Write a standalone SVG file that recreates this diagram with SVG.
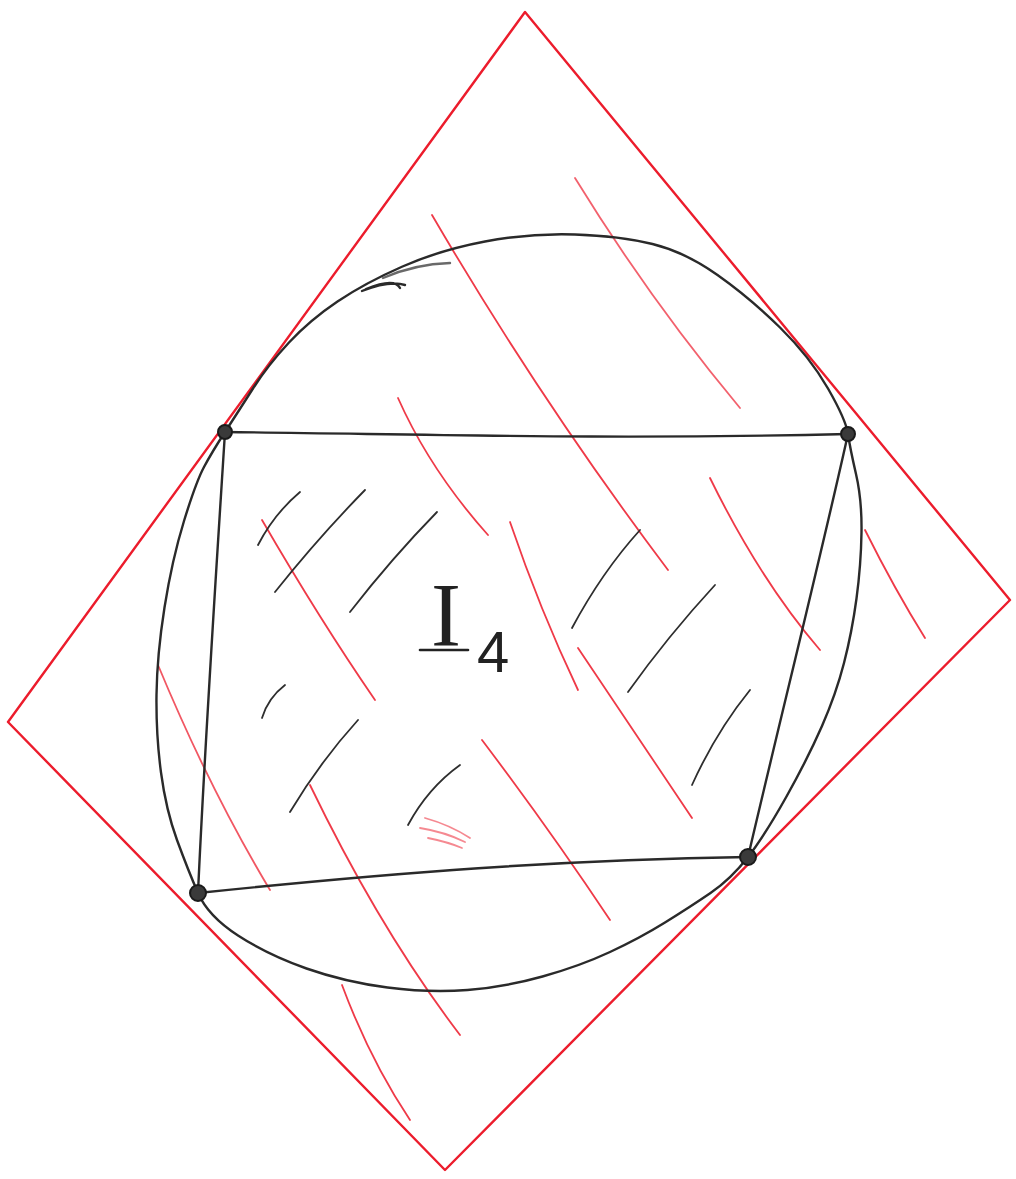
<svg xmlns="http://www.w3.org/2000/svg" width="1016" height="1179" viewBox="0 0 1016 1179">
<style>
.red{fill:none;stroke:#ec1c2c;stroke-width:2.4;stroke-linecap:round;stroke-linejoin:round}
.hr{fill:none;stroke:#ef3a48;stroke-width:1.8;stroke-linecap:round}
.hk{fill:none;stroke:#2e2e2e;stroke-width:1.8;stroke-linecap:round}
.blk{fill:none;stroke:#2a2a2a;stroke-width:2.4;stroke-linecap:round;stroke-linejoin:round}
.pt{fill:#3a3a3a;stroke:#1a1a1a;stroke-width:2}
.lbl{font-family:"Liberation Serif",serif;fill:#222}
</style>
<rect width="1016" height="1179" fill="#ffffff"/>
<g id="rectangle">
<path class="red" d="M525,12 L1010,600 L445,1170 L8,722 Z"/>
</g>
<g id="hatch-red">
<path class="hr" d="M575,178 Q650,300 740,408" opacity="0.8"/>
<path class="hr" d="M432,215 Q540,400 668,570"/>
<path class="hr" d="M398,398 Q430,470 488,535"/>
<path class="hr" d="M262,520 Q320,620 375,700"/>
<path class="hr" d="M510,522 Q540,610 578,690"/>
<path class="hr" d="M578,648 Q640,740 692,818"/>
<path class="hr" d="M710,478 Q760,580 820,650"/>
<path class="hr" d="M865,530 Q895,590 925,638"/>
<path class="hr" d="M158,665 Q210,790 270,890" opacity="0.85"/>
<path class="hr" d="M310,785 Q380,930 460,1035"/>
<path class="hr" d="M482,740 Q550,830 610,920"/>
<path class="hr" d="M342,985 Q370,1060 410,1120"/>
<path class="hr" d="M425,818 Q450,825 470,838 M420,828 Q445,832 465,842 M428,838 Q448,842 462,848" opacity="0.6"/>
</g>
<g id="hatch-black">
<path class="hk" d="M258,545 Q274,514 300,492"/>
<path class="hk" d="M275,592 Q318,538 365,490"/>
<path class="hk" d="M350,612 Q392,558 437,512"/>
<path class="hk" d="M262,718 Q268,698 285,685"/>
<path class="hk" d="M290,812 Q320,762 358,720"/>
<path class="hk" d="M408,825 Q428,788 460,765"/>
<path class="hk" d="M572,628 Q602,572 640,530"/>
<path class="hk" d="M628,692 Q668,636 715,585"/>
<path class="hk" d="M692,785 Q716,732 750,690"/>
</g>
<g id="connectors">
<path id="oval" class="blk" d="M225,432 Q238,412 253,388.5 Q268,365 289,342.5 Q310,320 337.5,301.5 Q365,283 402.5,266.5 Q440,250 485,241.5 Q530,233 575,234.5 Q620,236 652.5,244 Q685,252 717.5,275 Q750,298 780,327.5 Q810,357 828,388.5 Q846,420 848,434 Q850,448 856,474 Q862,500 861.5,532.5 Q861,565 856.5,598.5 Q852,632 844,663 Q836,694 822,726 Q808,758 786.5,796.5 Q765,835 748,857 Q731,879 710.5,893 Q690,907 665,922.5 Q640,938 610,952 Q580,966 542.5,976.5 Q505,987 467.5,990 Q430,993 387.5,987.5 Q345,982 306.5,968.5 Q268,955 238,935.5 Q208,916 198,893 Q188,870 177,840 Q166,810 161,772.5 Q156,735 156.5,695 Q157,655 164.5,607.5 Q172,560 184,521 Q196,482 204,467 Q212,452 225,432 Z"/>
<path class="blk" d="M383,278 Q415,264 450,263" stroke-width="1.4" opacity="0.7"/>
<path class="blk" d="M362,291 C377,285 392,281 405,285 M366,289 C381,283 396,280 400,288" stroke-width="1.6"/>
<path class="blk" d="M225,432 C420,434 600,440 848,434"/>
<path class="blk" d="M848,434 C820,560 780,720 748,857"/>
<path class="blk" d="M748,857 C560,860 400,872 198,893"/>
<path class="blk" d="M198,893 C205,740 215,590 225,432"/>
</g>
<g id="node-a"><circle class="pt" cx="225" cy="432" r="7"/></g>
<g id="node-b"><circle class="pt" cx="848" cy="434" r="7"/></g>
<g id="node-c"><circle class="pt" cx="748" cy="857" r="8"/></g>
<g id="node-d"><circle class="pt" cx="198" cy="893" r="8"/></g>
<g id="label">
<text class="lbl" x="446" y="646" font-size="90" text-anchor="middle">I</text>
<line x1="420" y1="650" x2="468" y2="650" stroke="#222" stroke-width="2.6" stroke-linecap="round"/>
<text x="477" y="672" font-family="Liberation Sans, sans-serif" font-size="58" fill="#222">4</text>
</g>
</svg>
